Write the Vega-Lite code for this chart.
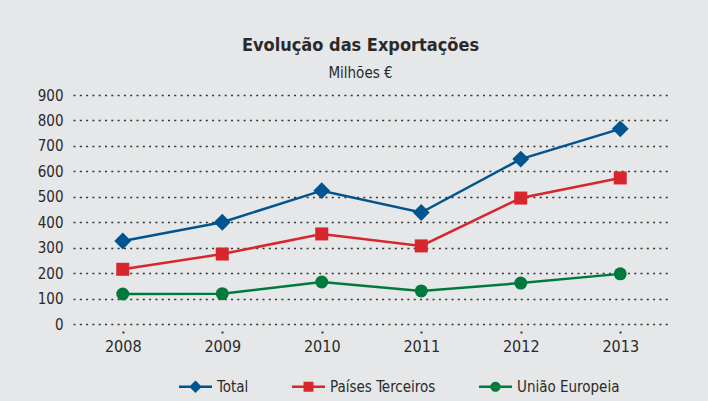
{
  "$schema": "https://vega.github.io/schema/vega-lite/v6.json",
  "autosize": "none",
  "width": 597,
  "height": 229,
  "padding": {"left": 73, "top": 95, "right": 38, "bottom": 77},
  "background": "#e6e7e8",
  "config": {
    "font": "DejaVu Sans Condensed",
    "view": {"stroke": null}
  },
  "title": {
    "text": "Evolução das Exportações",
    "subtitle": "Milhões €",
    "anchor": "middle",
    "frame": "group",
    "dx": -11,
    "fontSize": 18,
    "fontWeight": "bold",
    "color": "#2a2a2a",
    "subtitleFontSize": 15,
    "subtitleColor": "#2a2a2a",
    "subtitlePadding": 11,
    "offset": 7
  },
  "data": {
    "values": [
      {"year": "2008", "series": "Total", "value": 326},
      {"year": "2009", "series": "Total", "value": 400},
      {"year": "2010", "series": "Total", "value": 524},
      {"year": "2011", "series": "Total", "value": 438},
      {"year": "2012", "series": "Total", "value": 648},
      {"year": "2013", "series": "Total", "value": 767},
      {"year": "2008", "series": "Países Terceiros", "value": 215},
      {"year": "2009", "series": "Países Terceiros", "value": 275},
      {"year": "2010", "series": "Países Terceiros", "value": 354},
      {"year": "2011", "series": "Países Terceiros", "value": 307},
      {"year": "2012", "series": "Países Terceiros", "value": 495},
      {"year": "2013", "series": "Países Terceiros", "value": 574},
      {"year": "2008", "series": "União Europeia", "value": 118},
      {"year": "2009", "series": "União Europeia", "value": 119},
      {"year": "2010", "series": "União Europeia", "value": 165},
      {"year": "2011", "series": "União Europeia", "value": 130},
      {"year": "2012", "series": "União Europeia", "value": 161},
      {"year": "2013", "series": "União Europeia", "value": 197}
    ]
  },
  "encoding": {
    "x": {
      "field": "year",
      "type": "ordinal",
      "scale": {"type": "point", "padding": 0.5},
      "axis": {
        "title": null,
        "domain": false,
        "grid": false,
        "labelAngle": 0,
        "labelFontSize": 16,
        "labelColor": "#2a2a2a",
        "tickSize": 10,
        "tickWidth": 2,
        "tickColor": "#333333",
        "tickDash": [0, 7, 2, 20],
        "labelPadding": 4
      }
    },
    "y": {
      "field": "value",
      "type": "quantitative",
      "scale": {"domain": [0, 900], "nice": false},
      "axis": {
        "title": null,
        "domain": false,
        "ticks": false,
        "values": [0, 100, 200, 300, 400, 500, 600, 700, 800, 900],
        "grid": true,
        "gridColor": "#333333",
        "gridDash": [2, 4.3],
        "gridWidth": 1.5,
        "gridOpacity": 1,
        "labelFontSize": 15,
        "labelColor": "#2a2a2a",
        "labelPadding": 10
      }
    },
    "color": {
      "field": "series",
      "type": "nominal",
      "scale": {
        "domain": ["Total", "Países Terceiros", "União Europeia"],
        "range": ["#00548f", "#d7262e", "#007a3c"]
      },
      "legend": {
        "title": null,
        "orient": "none",
        "legendX": 106,
        "legendY": 275,
        "direction": "horizontal",
        "symbolSize": 1089,
        "symbolStrokeWidth": 0,
        "labelFontSize": 15,
        "labelColor": "#2a2a2a",
        "labelOffset": 5,
        "columnPadding": 43
      }
    }
  },
  "layer": [
    {
      "mark": {"type": "line", "strokeWidth": 2.5}
    },
    {
      "transform": [{"filter": "datum.series === 'Total'"}],
      "mark": {"type": "point", "filled": true, "opacity": 1, "size": 169, "shape": "M-1.3,0L0,-1.3L1.3,0L0,1.3Z"}
    },
    {
      "transform": [{"filter": "datum.series === 'Países Terceiros'"}],
      "mark": {"type": "point", "filled": true, "opacity": 1, "size": 169, "shape": "square"}
    },
    {
      "transform": [{"filter": "datum.series === 'União Europeia'"}],
      "mark": {"type": "point", "filled": true, "opacity": 1, "size": 169, "shape": "circle"}
    },
    {
      "transform": [{"filter": "datum.value < 0"}],
      "mark": {"type": "point", "filled": true, "opacity": 1},
      "encoding": {
        "shape": {
          "field": "series",
          "type": "nominal",
          "scale": {
            "domain": ["Total", "Países Terceiros", "União Europeia"],
            "range": [
              "M-1,-0.075H1V0.075H-1ZM0,-0.38L0.38,0L0,0.38L-0.38,0Z",
              "M-1,-0.075H1V0.075H-1ZM-0.3,-0.3H0.3V0.3H-0.3Z",
              "M-1,-0.075H1V0.075H-1ZM0.31,0A0.31,0.31,0,1,1,-0.31,0A0.31,0.31,0,1,1,0.31,0Z"
            ]
          },
          "legend": {
            "title": null,
            "orient": "none",
            "legendX": 106,
            "legendY": 275,
            "direction": "horizontal",
            "symbolSize": 1089,
            "symbolStrokeWidth": 0,
            "labelFontSize": 15,
            "labelColor": "#2a2a2a",
            "labelOffset": 5,
            "columnPadding": 43
          }
        }
      }
    }
  ]
}
